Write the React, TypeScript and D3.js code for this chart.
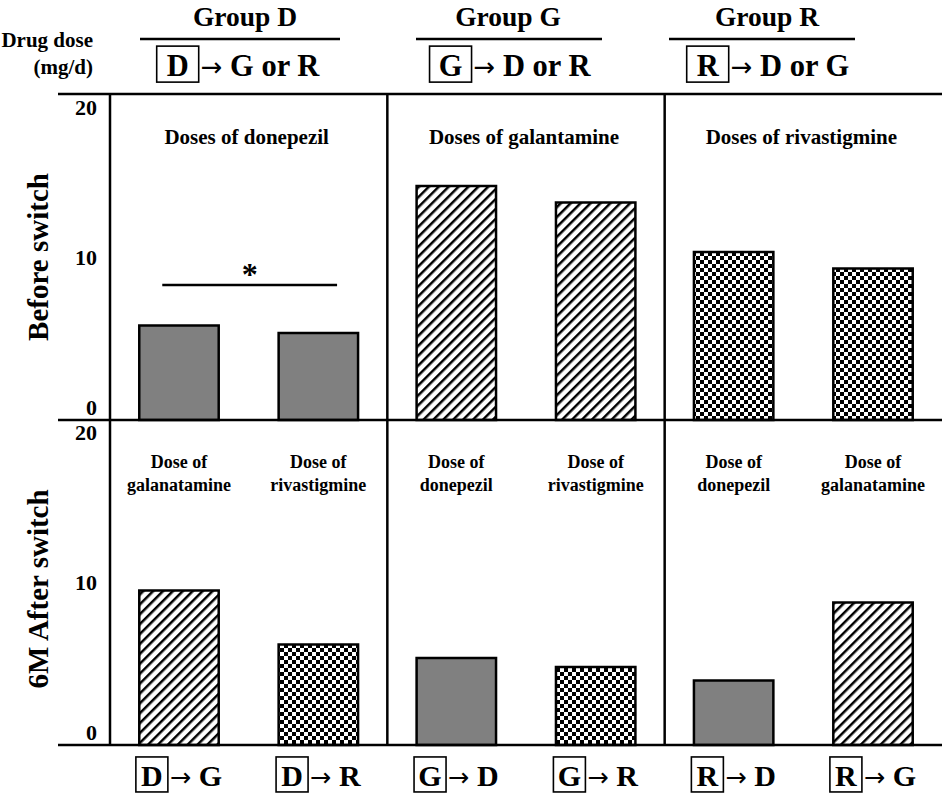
import React, { useLayoutEffect, useRef, useState } from "react";
import * as d3 from "d3";

// ---------- data ----------
const groups = ["Group D", "Group G", "Group R"];
const groupSource = ["D", "G", "R"];
const groupTargets = ["G or R", "D or R", "D or G"];
const beforeTitles = ["Doses of donepezil", "Doses of galantamine", "Doses of rivastigmine"];
const beforeValues = [
  [6.3, 5.8],
  [15.6, 14.5],
  [11.2, 10.1],
];
const afterValues = [
  [10.3, 6.7],
  [5.8, 5.2],
  [4.3, 9.5],
];
const afterTitles = [
  [["Dose of", "galanatamine"], ["Dose of", "rivastigmine"]],
  [["Dose of", "donepezil"], ["Dose of", "rivastigmine"]],
  [["Dose of", "donepezil"], ["Dose of", "galanatamine"]],
];
const afterDrugs = [
  ["G", "R"],
  ["D", "R"],
  ["D", "G"],
];
const yTicks = [0, 10, 20];
const rowLabels = ["Before switch", "6M After switch"];

// ---------- layout ----------
const W = 942;
const H = 795;
const FONT = "'Liberation Serif', 'Times New Roman', serif";
const ARROW_FONT = "'DejaVu Sans', sans-serif";
const frameLeft = 58;
const axisX = 110;
const topY = 94;
const midY = 420;
const botY = 745;
const titleCenters = [245, 508, 767];
const lineCenters = [240, 509, 762];
const lineHalf = [100, 93, 93];
const line2Centers = [238, 510, 768];
const rowLabelY = [257, 589];

const xPanel = d3.scaleBand<string>().domain(groups).range([axisX, W]).padding(0);
const xBar = d3
  .scaleBand<number>()
  .domain([0, 1])
  .range([0, xPanel.bandwidth()])
  .paddingInner(0.43)
  .paddingOuter(0.21);
const yTop = d3.scaleLinear().domain([0, 20]).range([midY, 120]);
const yBot = d3.scaleLinear().domain([0, 20]).range([botY, 445]);

const fillFor = (drug: string) =>
  drug === "D" ? "#808080" : drug === "G" ? "url(#hatch)" : "url(#checker)";

function BoxedLabel({
  cx,
  y,
  letter,
  rest,
  fontSize,
  boxW,
  boxH,
}: {
  cx: number;
  y: number;
  letter: string;
  rest: string;
  fontSize: number;
  boxW: number;
  boxH: number;
}) {
  const ref = useRef<SVGTextElement>(null);
  const [restW, setRestW] = useState(fontSize * 3);
  useLayoutEffect(() => {
    if (ref.current) setRestW(ref.current.getComputedTextLength());
  }, [rest, fontSize]);
  const gap = 2;
  const total = boxW + gap + restW;
  const left = cx - total / 2;
  return (
    <g fontFamily={FONT} fontWeight="bold" fontSize={fontSize}>
      <rect
        x={left}
        y={y - boxH * 0.83}
        width={boxW}
        height={boxH}
        fill="none"
        stroke="#000"
        strokeWidth={1.6}
      />
      <text x={left + boxW / 2} y={y} textAnchor="middle">
        {letter}
      </text>
      <text ref={ref} x={left + boxW + gap} y={y}>
        <tspan fontFamily={ARROW_FONT} fontWeight="normal" fontSize={fontSize * 0.85}>
          {"\u2192"}
        </tspan>
        <tspan>{" " + rest}</tspan>
      </text>
    </g>
  );
}

export default function App() {
  const ticks = (yScale: d3.ScaleLinear<number, number>) =>
    yTicks.map((t) => (
      <text
        key={t}
        x={97}
        y={yScale(t) - 5}
        textAnchor="end"
        fontSize={22}
        fontWeight="bold"
        fontFamily={FONT}
      >
        {t}
      </text>
    ));

  return (
    <svg width={W} height={H} style={{ display: "block", position: "absolute", left: 0, top: 0 }}>
      <defs>
        <pattern
          id="hatch"
          patternUnits="userSpaceOnUse"
          width={7}
          height={7}
          patternTransform="rotate(45)"
        >
          <rect width={7} height={7} fill="#fff" />
          <line x1={0} y1={0} x2={0} y2={7} stroke="#000" strokeWidth={5} />
        </pattern>
        <pattern id="checker" patternUnits="userSpaceOnUse" width={8} height={8}>
          <rect width={8} height={8} fill="#fff" />
          <rect width={4} height={4} fill="#000" />
          <rect x={4} y={4} width={4} height={4} fill="#000" />
        </pattern>
      </defs>
      <rect width={W} height={H} fill="#fff" />

      {/* header */}
      <g fontFamily={FONT} fontWeight="bold" fontSize={21}>
        <text x={93} y={47} textAnchor="end">
          Drug dose
        </text>
        <text x={93} y={74} textAnchor="end">
          (mg/d)
        </text>
      </g>
      {groups.map((g, i) => (
        <g key={g}>
          <text
            x={titleCenters[i]}
            y={26}
            textAnchor="middle"
            fontFamily={FONT}
            fontWeight="bold"
            fontSize={27.5}
          >
            {g}
          </text>
          <line
            x1={lineCenters[i] - lineHalf[i]}
            x2={lineCenters[i] + lineHalf[i]}
            y1={39}
            y2={39}
            stroke="#000"
            strokeWidth={2.5}
          />
          <BoxedLabel
            cx={line2Centers[i]}
            y={76}
            letter={groupSource[i]}
            rest={groupTargets[i]}
            fontSize={30.5}
            boxW={42}
            boxH={36}
          />
        </g>
      ))}

      {/* row labels */}
      {rowLabels.map((r, i) => (
        <text
          key={r}
          transform={`translate(48,${rowLabelY[i]}) rotate(-90)`}
          textAnchor="middle"
          fontFamily={FONT}
          fontWeight="bold"
          fontSize={29}
        >
          {r}
        </text>
      ))}

      {ticks(yTop)}
      {ticks(yBot)}

      {groups.map((g, i) => {
        const px = xPanel(g) as number;
        return (
          <g key={g}>
            {/* before switch */}
            <text
              x={px + xPanel.bandwidth() / 2 - 2}
              y={144}
              textAnchor="middle"
              fontFamily={FONT}
              fontWeight="bold"
              fontSize={21}
            >
              {beforeTitles[i]}
            </text>
            {beforeValues[i].map((v, j) => (
              <rect
                key={j}
                x={px + (xBar(j) as number)}
                y={yTop(v)}
                width={xBar.bandwidth()}
                height={yTop(0) - yTop(v)}
                fill={fillFor(groupSource[i])}
                stroke="#000"
                strokeWidth={2.5}
              />
            ))}
            {/* after switch */}
            {afterValues[i].map((v, j) => (
              <g key={j}>
                {afterTitles[i][j].map((t, k) => (
                  <text
                    key={k}
                    x={px + (xBar(j) as number) + xBar.bandwidth() / 2}
                    y={468 + k * 23}
                    textAnchor="middle"
                    fontFamily={FONT}
                    fontWeight="bold"
                    fontSize={18}
                  >
                    {t}
                  </text>
                ))}
                <rect
                  x={px + (xBar(j) as number)}
                  y={yBot(v)}
                  width={xBar.bandwidth()}
                  height={yBot(0) - yBot(v)}
                  fill={fillFor(afterDrugs[i][j])}
                  stroke="#000"
                  strokeWidth={2.5}
                />
                <BoxedLabel
                  cx={px + (xBar(j) as number) + xBar.bandwidth() / 2}
                  y={786}
                  letter={groupSource[i]}
                  rest={afterDrugs[i][j]}
                  fontSize={30}
                  boxW={32}
                  boxH={35}
                />
              </g>
            ))}
          </g>
        );
      })}

      {/* significance marker */}
      {(() => {
        const px = xPanel(groups[0]) as number;
        const x1 = px + (xBar(0) as number) + 23;
        const x2 = px + (xBar(1) as number) + xBar.bandwidth() - 21;
        return (
          <g>
            <line x1={x1} x2={x2} y1={285} y2={285} stroke="#000" strokeWidth={2.5} />
            <text
              x={(x1 + x2) / 2}
              y={285}
              textAnchor="middle"
              fontFamily={FONT}
              fontWeight="bold"
              fontSize={32}
            >
              *
            </text>
          </g>
        );
      })()}

      {/* frame */}
      <g stroke="#000" strokeWidth={2.5}>
        <line x1={frameLeft} x2={W} y1={topY} y2={topY} />
        <line x1={frameLeft} x2={W} y1={midY} y2={midY} />
        <line x1={frameLeft} x2={W} y1={botY} y2={botY} />
        <line x1={axisX} x2={axisX} y1={topY} y2={botY} />
        {groups.slice(1).map((g) => (
          <line key={g} x1={xPanel(g)} x2={xPanel(g)} y1={topY} y2={botY} />
        ))}
      </g>
    </svg>
  );
}
